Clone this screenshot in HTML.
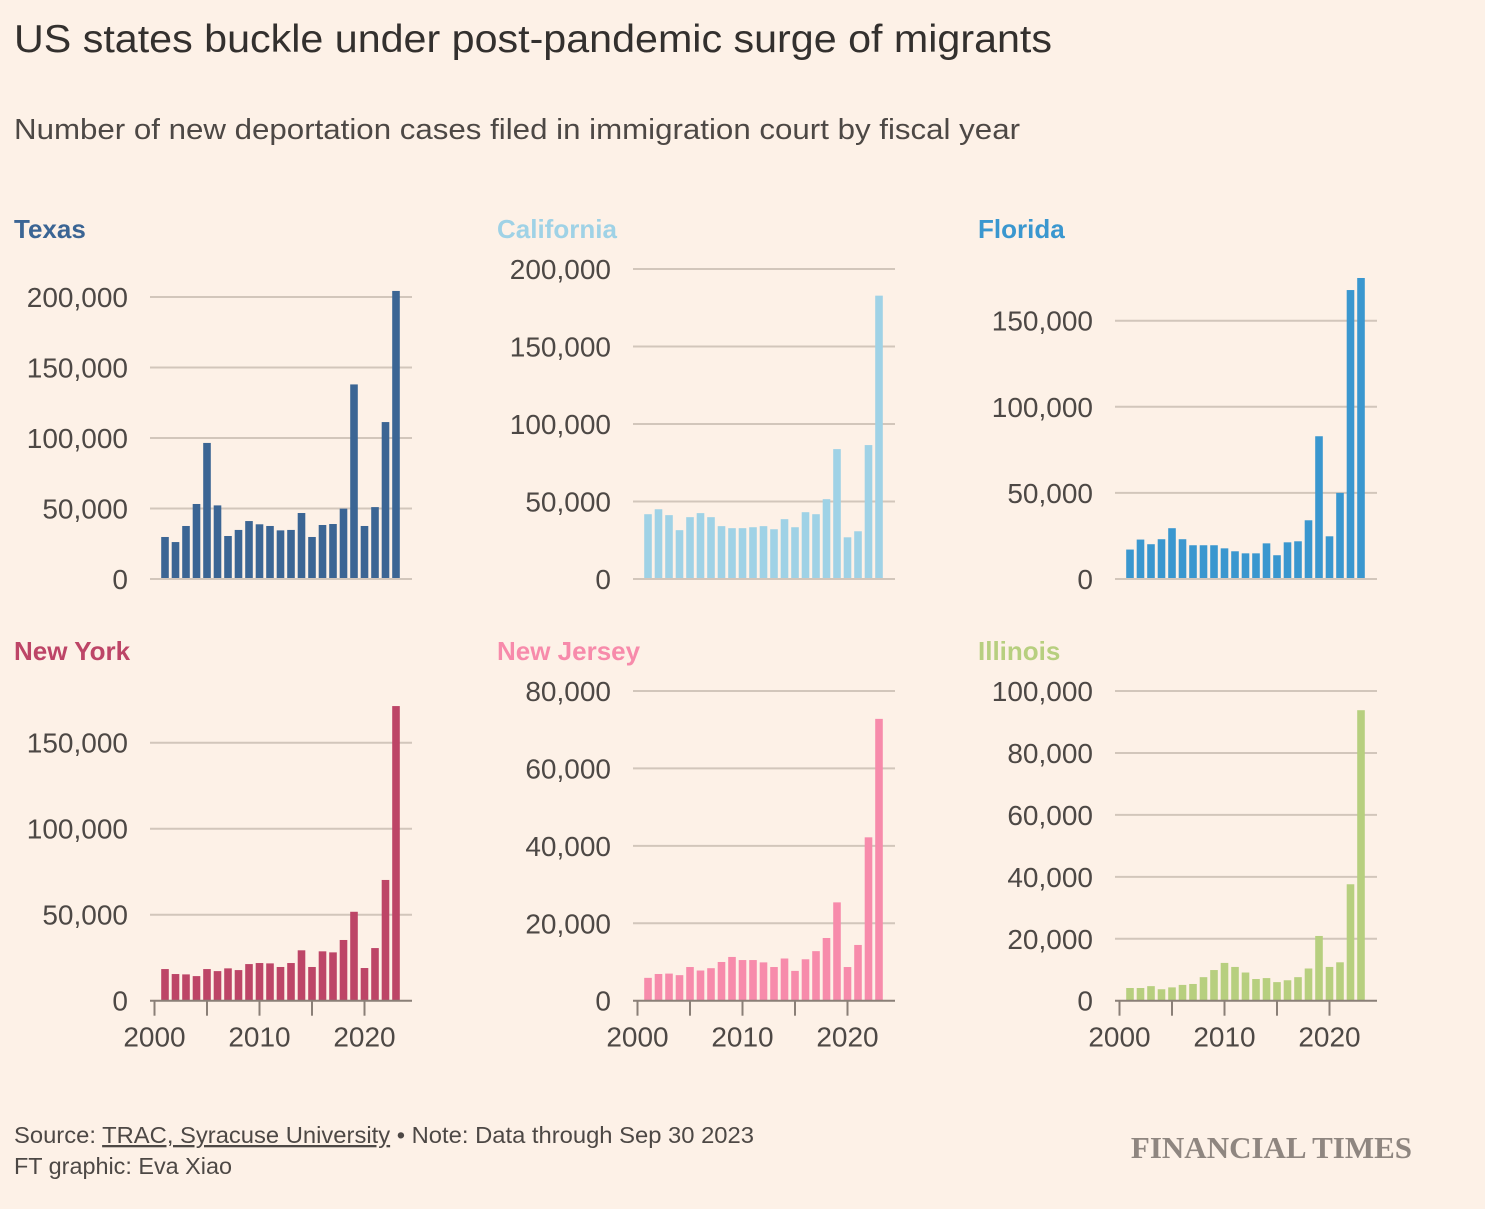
<!DOCTYPE html>
<html><head><meta charset="utf-8">
<style>
body{margin:0;background:#fdf1e7;}
svg{display:block;font-family:"Liberation Sans",sans-serif;}
</style></head>
<body>
<svg id="c" width="1485" height="1209" viewBox="0 0 1485 1209">
<rect width="1485" height="1209" fill="#fdf1e7"/>
<text x="14" y="52" font-size="39" fill="#33302e" textLength="1038" lengthAdjust="spacingAndGlyphs">US states buckle under post-pandemic surge of migrants</text>
<text x="14" y="139" font-size="29" fill="#4d4845" textLength="1006" lengthAdjust="spacingAndGlyphs">Number of new deportation cases filed in immigration court by fiscal year</text>
<text x="14" y="1143" font-size="23" fill="#4d4845" textLength="740" lengthAdjust="spacingAndGlyphs">Source: <tspan text-decoration="underline">TRAC, Syracuse University</tspan> • Note: Data through Sep 30 2023</text>
<text x="14" y="1174" font-size="23" fill="#4d4845" textLength="218" lengthAdjust="spacingAndGlyphs">FT graphic: Eva Xiao</text>
<text x="1412" y="1158" font-size="31" text-anchor="end" fill="#8f8680" font-weight="bold" font-family="Liberation Serif,serif">FINANCIAL TIMES</text>
<g id="panels"></g>
</svg>
<script>
const years=[2001,2002,2003,2004,2005,2006,2007,2008,2009,2010,2011,2012,2013,2014,2015,2016,2017,2018,2019,2020,2021,2022,2023];
const texas=[29.8,26.2,37.6,53.2,96.5,52.2,30.5,34.8,41.1,38.8,37.6,34.5,34.8,46.8,29.8,38.3,39,49.9,138,37.6,51,111.3,204.3];
const california=[41.8,45,41.2,31.5,39.9,42.5,39.9,34.1,32.8,32.8,33.4,34.1,32.1,38.6,33.4,43.1,41.8,51.5,83.8,26.9,30.8,86.4,182.8];
const florida=[17.1,22.9,20.2,23.1,29.5,23.1,19.6,19.6,19.6,17.8,16.1,14.9,14.9,20.7,13.8,21.3,21.9,34.1,82.9,24.8,50,167.8,174.8];
const newYork=[18.4,15.5,15.3,14.3,18.4,17.2,18.8,17.8,21.3,21.9,21.7,19.6,21.9,29.3,19.6,28.7,28.1,35.3,51.7,19,30.6,70.2,171.3];
const newJersey=[5.9,6.9,7,6.6,8.7,7.8,8.4,10,11.3,10.5,10.5,9.9,8.7,10.9,7.7,10.7,12.8,16.2,25.4,8.7,14.4,42.2,72.8];
const illinois=[4.1,4.1,4.7,3.7,4.3,5.1,5.4,7.6,9.9,12.2,10.9,9.1,7,7.3,6,6.6,7.6,10.4,20.9,10.9,12.4,37.6,93.8];
const texasTicks=[0,50,100,150,200];
const californiaTicks=[0,50,100,150,200];
const floridaTicks=[0,50,100,150];
const newYorkTicks=[0,50,100,150];
const newJerseyTicks=[0,20,40,60,80];
const illinoisTicks=[0,20,40,60,80,100];
const xTickYears=[2000,2005,2010,2015,2020];
const xLabelYears=[2000,2010,2020];

const NS="http://www.w3.org/2000/svg";
const root=document.getElementById('panels');
function mk(tag,attrs,parent){const e=document.createElementNS(NS,tag);for(const k in attrs)e.setAttribute(k,attrs[k]);parent.appendChild(e);return e;}
function fmt(v){return (v*1000).toLocaleString('en-US');}

const panels=[
 {name:'texas',title:'Texas',color:'#3b6594',data:texas,ticks:texasTicks,left:150,tx:14,ty:238,zero:579,top:297,topVal:200,bottom:false},
 {name:'california',title:'California',color:'#9fd2e6',data:california,ticks:californiaTicks,left:633,tx:497,ty:238,zero:579,top:269,topVal:200,bottom:false},
 {name:'florida',title:'Florida',color:'#3a97cf',data:florida,ticks:floridaTicks,left:1115,tx:978,ty:238,zero:579,top:320.7,topVal:150,bottom:false},
 {name:'new-york',title:'New York',color:'#bd4567',data:newYork,ticks:newYorkTicks,left:150,tx:14,ty:660,zero:1000.7,top:742.7,topVal:150,bottom:true},
 {name:'new-jersey',title:'New Jersey',color:'#f78bab',data:newJersey,ticks:newJerseyTicks,left:633,tx:497,ty:660,zero:1000.7,top:691,topVal:80,bottom:true},
 {name:'illinois',title:'Illinois',color:'#b7cf7f',data:illinois,ticks:illinoisTicks,left:1115,tx:978,ty:660,zero:1000.7,top:691,topVal:100,bottom:true}
];
panels.forEach(p=>{
 const g=mk('g',{},root);
 
 
 const t=mk('text',{x:p.tx,y:p.ty,'font-size':26,fill:p.color,'font-weight':'600'},g);
 t.textContent=p.title;
 
 
 const right=p.left+262;
 const y=v=>p.zero-(v/p.topVal)*(p.zero-p.top);
 const x=yr=>p.left+4.5+(yr-2000)*10.5;
 p.ticks.forEach(v=>{
  if(v>0){const l=mk('line',{x1:p.left,x2:right,y1:y(v),y2:y(v),stroke:'#d2c6bb','stroke-width':2},g);
   
   }
  const lb=mk('text',{x:p.left-22,y:y(v)+10,'font-size':28,fill:'#4d4845','text-anchor':'end'},g);
  lb.textContent=v===0?'0':fmt(v);
  
  
 });
 p.data.forEach((v,i)=>{
  const b=mk('rect',{x:x(years[i])-3.8,y:y(v),width:7.6,height:p.zero-y(v),fill:p.color},g);
  
  
 });
 const ax=mk('line',{x1:p.left,x2:right,y1:p.zero,y2:p.zero,stroke:p.bottom?'#8a7f77':'#d2c6bb','stroke-width':2},g);
 
 
 if(p.bottom){
  xTickYears.forEach(yr=>{
   const tk=mk('line',{x1:x(yr),x2:x(yr),y1:p.zero,y2:p.zero+15,stroke:'#8a7f77','stroke-width':2},g);
   
   
  });
  xLabelYears.forEach(yr=>{
   const lb=mk('text',{x:x(yr),y:p.zero+46,'font-size':28,fill:'#4d4845','text-anchor':'middle'},g);
   lb.textContent=yr;
   
   
  });
 }
});
</script>
</body></html>
